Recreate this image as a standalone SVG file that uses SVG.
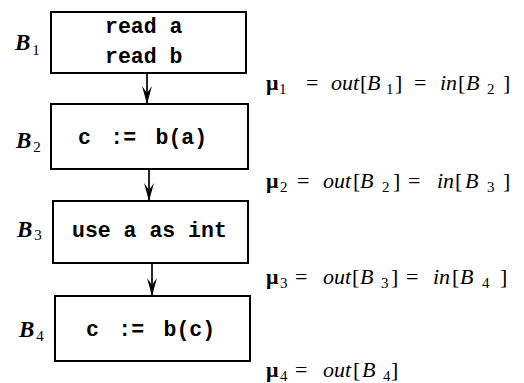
<svg xmlns="http://www.w3.org/2000/svg" width="524" height="383" viewBox="0 0 524 383">
<style>
.box{fill:#fff;stroke:#000;stroke-width:2}
.code{font-family:"Liberation Mono","Courier New",monospace;font-weight:bold;font-size:21.5px;fill:#000;white-space:pre}
.lbl{font-family:"Liberation Serif","Times New Roman",serif;font-weight:bold;font-style:italic;font-size:23px;fill:#000}
.sub{font-family:"Liberation Serif","Times New Roman",serif;font-size:15px;font-style:normal;font-weight:normal}
.eq{font-family:"Liberation Serif","Times New Roman",serif;font-size:22px;fill:#000}
.mu{font-weight:bold}
.it{font-style:italic}
.conn{stroke:#000;stroke-width:1.7;fill:none}
</style>
<defs>
<marker id="ah" markerUnits="userSpaceOnUse" viewBox="-19 -6 20 12" refX="0" refY="0" markerWidth="20" markerHeight="12" orient="auto">
<path d="M0,0 L-18,-5 L-11,0 L-18,5 Z" fill="#000"/>
</marker>
</defs>

<g id="connectors">
<line class="conn" x1="147" y1="73" x2="147" y2="104" marker-end="url(#ah)"/>
<line class="conn" x1="149" y1="169" x2="149" y2="201" marker-end="url(#ah)"/>
<line class="conn" x1="152" y1="263" x2="152" y2="296" marker-end="url(#ah)"/>
</g>

<g id="B1">
<rect class="box" x="51" y="12" width="195" height="61"/>
<text class="code" x="105" y="33">read a</text>
<text class="code" x="105" y="63">read b</text>
<text class="lbl" x="15" y="50">B<tspan class="sub" dx="2" dy="5">1</tspan></text>
</g>

<g id="B2">
<rect class="box" x="51" y="104" width="197" height="65"/>
<text class="code" x="78" y="144" word-spacing="6.5">c := b(a)</text>
<text class="lbl" x="16" y="148">B<tspan class="sub" dx="2" dy="4">2</tspan></text>
</g>

<g id="B3">
<rect class="box" x="53" y="201" width="195" height="62"/>
<text class="code" x="72" y="237">use a as int</text>
<text class="lbl" x="17" y="237">B<tspan class="sub" dx="2" dy="3">3</tspan></text>
</g>

<g id="B4">
<rect class="box" x="55" y="296" width="195" height="65"/>
<text class="code" x="86" y="336" word-spacing="6.5">c := b(c)</text>
<text class="lbl" x="19" y="337">B<tspan class="sub" dx="2" dy="4">4</tspan></text>
</g>

<g id="annotations">
<text class="eq" y="90"><tspan class="mu" x="266">μ</tspan><tspan class="sub" x="279" dy="4">1</tspan><tspan x="306" dy="-4">=</tspan><tspan class="it" x="331">out</tspan><tspan x="360">[</tspan><tspan class="it" x="367">B</tspan><tspan class="sub" x="386" dy="4">1</tspan><tspan x="395" dy="-4">]</tspan><tspan x="414">=</tspan><tspan class="it" x="440">in</tspan><tspan x="458">[</tspan><tspan class="it" x="466">B</tspan><tspan class="sub" x="487" dy="4">2</tspan><tspan x="503" dy="-4">]</tspan></text>

<text class="eq" y="188"><tspan class="mu" x="266">μ</tspan><tspan class="sub" x="280" dy="4">2</tspan><tspan x="297" dy="-4">=</tspan><tspan class="it" x="323">out</tspan><tspan x="353">[</tspan><tspan class="it" x="360">B</tspan><tspan class="sub" x="382" dy="4">2</tspan><tspan x="393" dy="-4">]</tspan><tspan x="408">=</tspan><tspan class="it" x="437">in</tspan><tspan x="455">[</tspan><tspan class="it" x="465">B</tspan><tspan class="sub" x="487" dy="4">3</tspan><tspan x="503" dy="-4">]</tspan></text>

<text class="eq" y="284"><tspan class="mu" x="266">μ</tspan><tspan class="sub" x="280" dy="4">3</tspan><tspan x="295" dy="-4">=</tspan><tspan class="it" x="323">out</tspan><tspan x="352">[</tspan><tspan class="it" x="360">B</tspan><tspan class="sub" x="381" dy="4">3</tspan><tspan x="391" dy="-4">]</tspan><tspan x="406">=</tspan><tspan class="it" x="433">in</tspan><tspan x="452">[</tspan><tspan class="it" x="460">B</tspan><tspan class="sub" x="482" dy="4">4</tspan><tspan x="500" dy="-4">]</tspan></text>

<text class="eq" y="377"><tspan class="mu" x="266">μ</tspan><tspan class="sub" x="280" dy="4">4</tspan><tspan x="295" dy="-4">=</tspan><tspan class="it" x="323">out</tspan><tspan x="353">[</tspan><tspan class="it" x="362">B</tspan><tspan class="sub" x="383" dy="4">4</tspan><tspan x="391" dy="-4">]</tspan></text>
</g>
</svg>
